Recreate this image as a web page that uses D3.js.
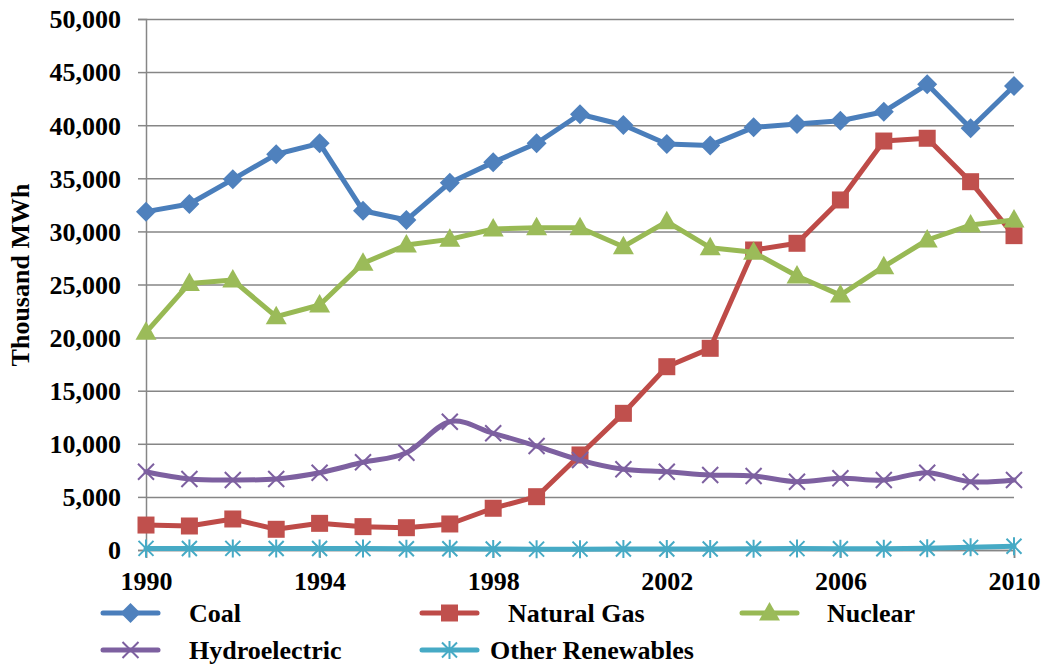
<!DOCTYPE html>
<html>
<head>
<meta charset="utf-8">
<script src="https://cdn.jsdelivr.net/npm/d3@7"></script>
<style>
  body { margin: 0; background: #fff; }
  svg text { font-family: "Liberation Serif", "Times New Roman", serif !important; font-weight: bold; fill: #000; }
</style>
</head>
<body>
<svg id="chart" width="1043" height="664" font-family="Liberation Serif"></svg>
<script>
// Electricity generation by source, thousand MWh
const years = [1990, 1991, 1992, 1993, 1994, 1995, 1996, 1997, 1998, 1999, 2000,
               2001, 2002, 2003, 2004, 2005, 2006, 2007, 2008, 2009, 2010];

const coal = [31860, 32580, 34900, 37260, 38290, 31950, 31070, 34590, 36500, 38300, 41030,
              40020, 38230, 38100, 39800, 40110, 40420, 41270, 43850, 39710, 43690];

const naturalGas = [2350, 2260, 2920, 1950, 2510, 2200, 2100, 2450, 3930, 5020, 8950,
                    12870, 17260, 18990, 28250, 28880, 32960, 38510, 38770, 34680, 29600];

const nuclear = [20500, 25100, 25420, 21970, 23070, 27000, 28720, 29250, 30230, 30350, 30350,
                 28560, 30920, 28470, 28030, 25800, 24000, 26680, 29190, 30600, 31070];

const hydroelectric = [7370, 6690, 6590, 6690, 7280, 8260, 9160, 12080, 10990, 9790, 8470,
                       7600, 7370, 7060, 6970, 6430, 6750, 6590, 7280, 6430, 6590];

const otherRenewables = [150, 140, 150, 140, 140, 130, 120, 120, 90, 80, 80,
                         90, 100, 100, 110, 130, 110, 120, 160, 250, 360];

const seriesNames = ["Coal", "Natural Gas", "Nuclear", "Hydroelectric", "Other Renewables"];
const yTicks = [0, 5000, 10000, 15000, 20000, 25000, 30000, 35000, 40000, 45000, 50000];
const xTicks = [1990, 1994, 1998, 2002, 2006, 2010];

const series = [
  { name: seriesNames[0], values: coal,            line: "#4A7EBB", fill: "#4F81BD", marker: "diamond",  curve: d3.curveLinear },
  { name: seriesNames[1], values: naturalGas,      line: "#BE4B48", fill: "#C0504D", marker: "square",   curve: d3.curveLinear },
  { name: seriesNames[2], values: nuclear,         line: "#98B954", fill: "#9BBB59", marker: "triangle", curve: d3.curveLinear },
  { name: seriesNames[3], values: hydroelectric,   line: "#7D60A0", fill: "#7D60A0", marker: "x",        curve: d3.curveCatmullRom.alpha(0) },
  { name: seriesNames[4], values: otherRenewables, line: "#46AAC5", fill: "#46AAC5", marker: "star",     curve: d3.curveLinear }
];

const svg = d3.select("#chart");
const plot = { left: 146, right: 1014, top: 19, bottom: 550 };
const serif = "Liberation Serif, Times New Roman, serif";

const x = d3.scaleLinear().domain([years[0], years[years.length - 1]]).range([plot.left, plot.right]);
const y = d3.scaleLinear().domain([0, 50000]).range([plot.bottom, plot.top]);

const gridColor = "#868686";

// horizontal gridlines
const grid = svg.append("g")
  .attr("transform", `translate(${plot.left},0)`)
  .call(d3.axisLeft(y).tickValues(yTicks).tickSize(-(plot.right - plot.left)).tickFormat(""));
grid.select(".domain").remove();
grid.selectAll("line").attr("stroke", gridColor).attr("stroke-width", 1.5);

// y axis with outer tick marks and labels
const yAxis = svg.append("g")
  .attr("transform", `translate(${plot.left},0)`)
  .call(d3.axisLeft(y).tickValues(yTicks).tickSize(8).tickPadding(17).tickFormat(d3.format(",")));
yAxis.attr("font-family", serif).attr("font-size", 26);
yAxis.select(".domain").attr("stroke", gridColor).attr("stroke-width", 1.5);
yAxis.selectAll(".tick line").attr("stroke", gridColor).attr("stroke-width", 1.5);
yAxis.selectAll("text").attr("dy", "0.34em");

// x axis
const xAxis = svg.append("g")
  .attr("transform", `translate(0,${plot.bottom})`)
  .call(d3.axisBottom(x).tickValues(xTicks).tickSize(8).tickFormat(d3.format("d")));
xAxis.attr("font-family", serif).attr("font-size", 26);
xAxis.select(".domain").attr("stroke", gridColor).attr("stroke-width", 1.5);
xAxis.selectAll(".tick line").attr("stroke", gridColor).attr("stroke-width", 1.5);
xAxis.selectAll("text").attr("y", 40).attr("dy", 0);

// axis title
svg.append("text")
  .attr("transform", "translate(29,275) rotate(-90)")
  .attr("text-anchor", "middle")
  .attr("font-family", serif)
  .attr("font-size", 26)
  .text("Thousand MWh");

// marker shapes
function markerPath(type) {
  switch (type) {
    case "diamond":  return "M0,-10L10,0L0,10L-10,0Z";
    case "square":   return "M-8.5,-8.5H8.5V8.5H-8.5Z";
    case "triangle": return "M0,-11L10.5,7.5L-10.5,7.5Z";
    case "x":        return "M-8,-8L8,8M-8,8L8,-8";
    case "star":     return "M-7.5,-7.5L7.5,7.5M-7.5,7.5L7.5,-7.5M0,-9V9";
  }
}
function styleMarker(sel, s) {
  const open = s.marker === "x" || s.marker === "star";
  sel.attr("d", markerPath(s.marker))
    .attr("fill", open ? "none" : s.fill)
    .attr("stroke", s.fill)
    .attr("stroke-width", open ? 2 : 0);
}

// series lines and markers
series.forEach(s => {
  const g = svg.append("g");
  const line = d3.line().x((d, i) => x(years[i])).y(d => y(d)).curve(s.curve);
  g.append("path")
    .datum(s.values)
    .attr("d", line)
    .attr("fill", "none")
    .attr("stroke", s.line)
    .attr("stroke-width", 5)
    .attr("stroke-linejoin", "round")
    .attr("stroke-linecap", "round");
  g.selectAll("path.mk")
    .data(s.values)
    .join("path")
    .attr("class", "mk")
    .attr("transform", (d, i) => `translate(${x(years[i])},${y(d)})`)
    .call(styleMarker, s);
});

// legend
const legendSlots = [
  { lx: 103, tx: 189, cy: 613 },
  { lx: 422, tx: 508, cy: 613 },
  { lx: 742, tx: 827, cy: 613 },
  { lx: 103, tx: 189, cy: 650 },
  { lx: 422, tx: 490, cy: 650 }
];
series.forEach((s, i) => {
  const slot = legendSlots[i];
  const g = svg.append("g");
  g.append("line")
    .attr("x1", slot.lx).attr("x2", slot.lx + 55)
    .attr("y1", slot.cy).attr("y2", slot.cy)
    .attr("stroke", s.line).attr("stroke-width", 5).attr("stroke-linecap", "round");
  g.append("path")
    .attr("transform", `translate(${slot.lx + 27.5},${slot.cy})`)
    .call(styleMarker, s);
  g.append("text")
    .attr("x", slot.tx).attr("y", slot.cy)
    .attr("dy", "0.36em")
    .attr("font-family", serif)
    .attr("font-size", 26)
    .text(s.name);
});
</script>
</body>
</html>
